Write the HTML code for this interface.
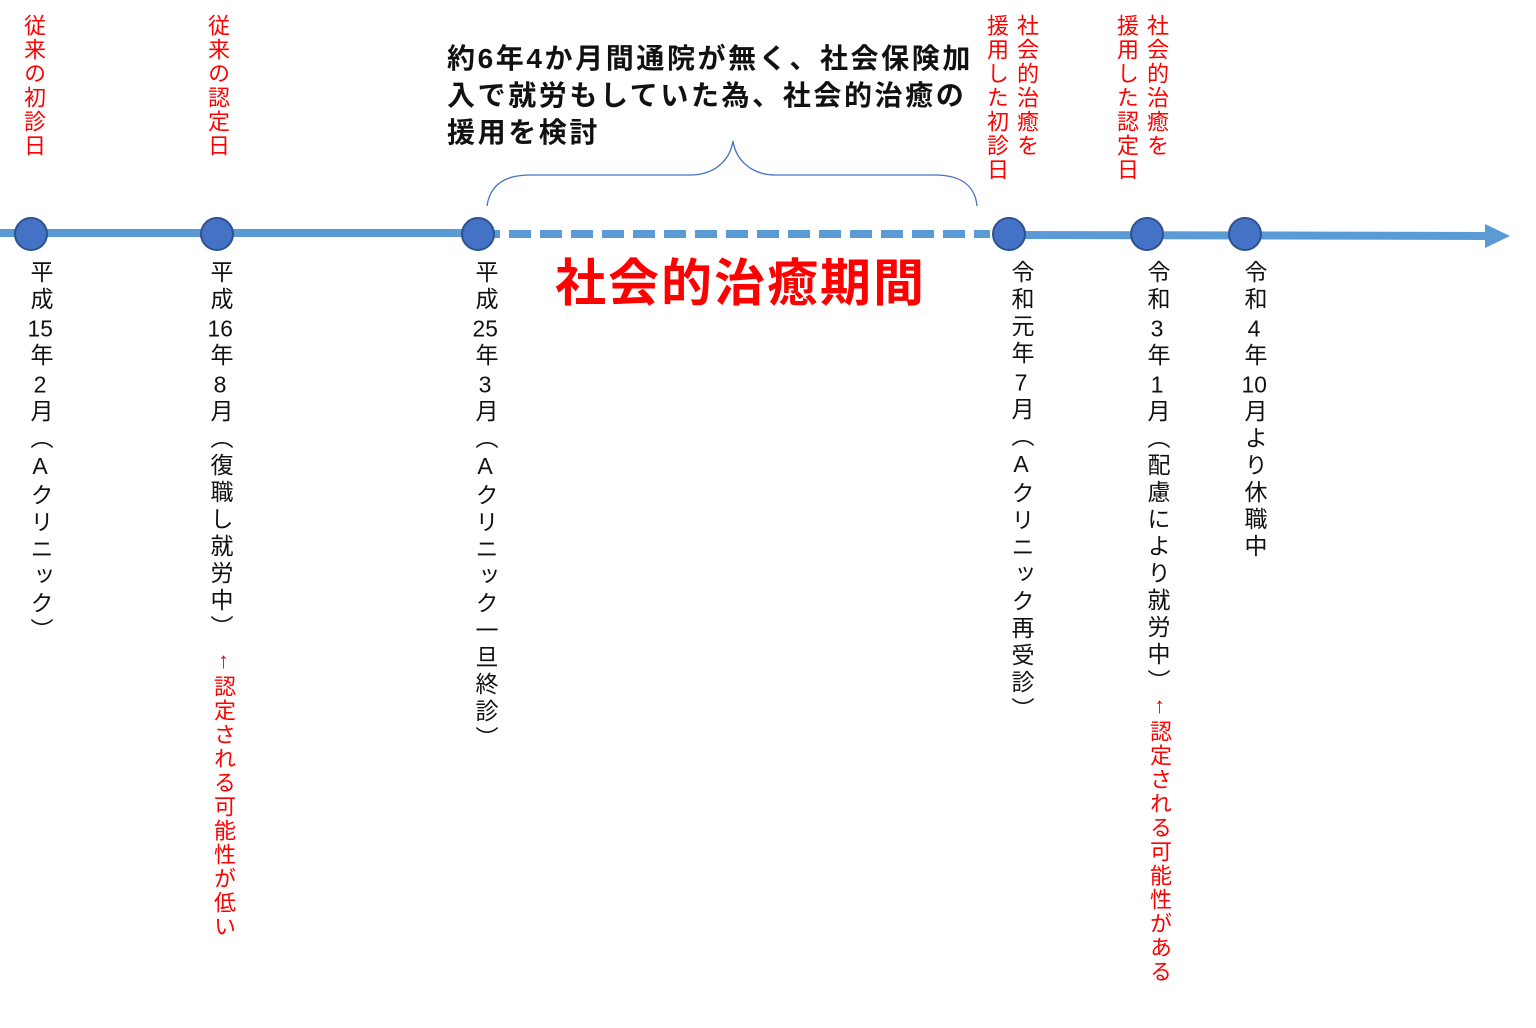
<!DOCTYPE html>
<html><head><meta charset="utf-8"><style>
body{margin:0;width:1536px;height:1028px;background:#fff;position:relative;overflow:hidden;font-family:"Liberation Sans","Noto Sans CJK JP",sans-serif}
.v{position:absolute;writing-mode:vertical-rl;text-orientation:upright;white-space:nowrap}
.b{font-size:23px;line-height:28px;letter-spacing:4px;color:#111}
.r{font-size:22px;line-height:30px;letter-spacing:2px;color:#f00}
.n{text-combine-upright:all;padding-top:3px;padding-bottom:3px}
.t{position:absolute;left:447px;top:40px;font-size:28px;font-weight:bold;line-height:37px;letter-spacing:2.6px;color:#111;white-space:nowrap}
.p{position:absolute;left:555px;top:242px;font-size:51px;font-weight:bold;color:#f00;letter-spacing:2px;white-space:nowrap}
</style></head><body>
<svg width="1536" height="1028" style="position:absolute;left:0;top:0">
<line x1="0" y1="233" x2="478" y2="233" stroke="#5b9bd5" stroke-width="8"/>
<line x1="478" y1="234" x2="990" y2="234" stroke="#5b9bd5" stroke-width="8" stroke-dasharray="22,9"/>
<line x1="1009" y1="235" x2="1490" y2="236" stroke="#5b9bd5" stroke-width="8"/>
<polygon points="1485,224 1510,236 1485,248" fill="#5b9bd5"/>
<path d="M487,206 C490,185 505,175 530,175 L690,175 C715,175 730,160 733,141 C736,160 751,175 776,175 L935,175 C960,175 975,185 977,206" fill="none" stroke="#4472c4" stroke-width="1.3"/>
<g fill="#4472c4" stroke="#2f528f" stroke-width="2">
<circle cx="31" cy="234" r="16"/><circle cx="217" cy="234" r="16"/><circle cx="478" cy="234" r="16"/>
<circle cx="1009" cy="234" r="16"/><circle cx="1147" cy="234" r="16"/><circle cx="1245" cy="234" r="16"/>
</g></svg>
<div class="v r" style="left:18px;top:14px">従来の初診日</div>
<div class="v r" style="left:202px;top:14px">従来の認定日</div>
<div class="v r" style="left:981px;top:14px;">社会的治癒を<br>援用した初診日</div>
<div class="v r" style="left:1111px;top:14px;">社会的治癒を<br>援用した認定日</div>
<div class="t">約6年4か月間通院が無く、社会保険加<br>入で就労もしていた為、社会的治癒の<br>援用を検討</div>
<div class="p">社会的治癒期間</div>
<div class="v b" style="left:26px;top:260px">平成<span class="n">15</span>年<span class="n">2</span>月（Aクリニック）</div>
<div class="v b" style="left:206px;top:260px">平成<span class="n">16</span>年<span class="n">8</span>月（復職し就労中）</div>
<div class="v r" style="left:208px;top:648px">↑認定される可能性が低い</div>
<div class="v b" style="left:471px;top:260px">平成<span class="n">25</span>年<span class="n">3</span>月（Aクリニック一旦終診）</div>
<div class="v b" style="left:1007px;top:260px">令和元年<span class="n">7</span>月（Aクリニック再受診）</div>
<div class="v b" style="left:1143px;top:260px">令和<span class="n">3</span>年<span class="n">1</span>月（配慮により就労中）</div>
<div class="v r" style="left:1144px;top:693px">↑認定される可能性がある</div>
<div class="v b" style="left:1240px;top:260px">令和<span class="n">4</span>年<span class="n">10</span>月より休職中</div>
</body></html>
